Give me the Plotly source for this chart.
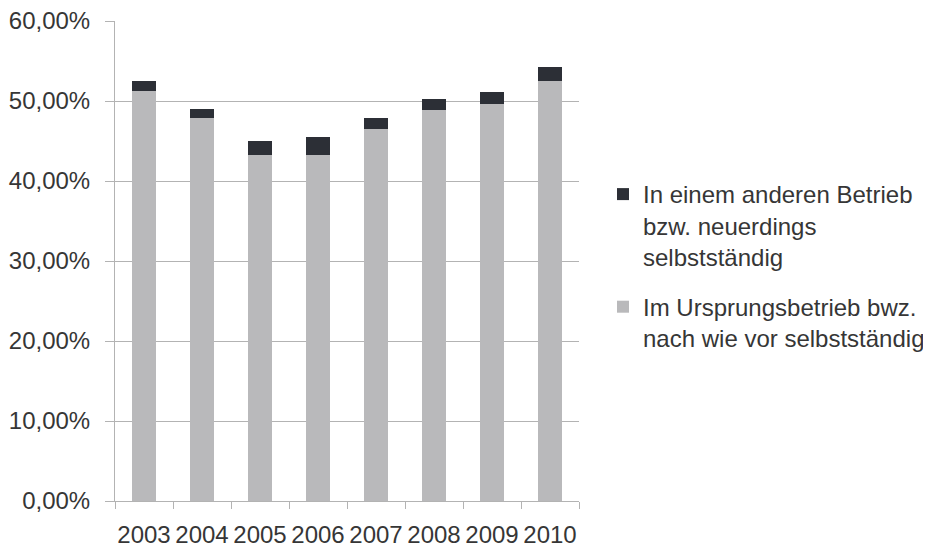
import plotly.graph_objects as go

years = ["2003", "2004", "2005", "2006", "2007", "2008", "2009", "2010"]
ursprung = [51.3, 47.9, 43.3, 43.2, 46.45, 48.9, 49.6, 52.5]
anderer = [1.25, 1.05, 1.7, 2.3, 1.4, 1.4, 1.5, 1.75]
y_tickvals = [0, 10, 20, 30, 40, 50, 60]
y_ticktext = ["0,00%", "10,00%", "20,00%", "30,00%", "40,00%", "50,00%", "60,00%"]

name_ursprung = "Im Ursprungsbetrieb bwz.<br>nach wie vor selbstständig"
name_anderer = "In einem anderen Betrieb<br>bzw. neuerdings<br>selbstständig"

font_family = "Liberation Sans, Arial, sans-serif"
text_color = "#363636"
grid_color = "#b3b3b3"

# the page body has an 8px default margin, so the layout is offset by it
off = 8

fig = go.Figure()
fig.add_trace(go.Bar(x=years, y=ursprung, name=name_ursprung,
                     marker=dict(color="#b9b9bb", line=dict(width=0)),
                     legendgroup="a", legendrank=2))
fig.add_trace(go.Bar(x=years, y=anderer, name=name_anderer,
                     marker=dict(color="#2c2f36", line=dict(width=0)),
                     legendgroup="b", legendrank=1))

fig.update_layout(
    width=931, height=547,
    barmode="stack",
    bargap=0.6,
    paper_bgcolor="white",
    plot_bgcolor="white",
    font=dict(family=font_family, size=24, color=text_color),
    margin=dict(l=115 - off, r=352 + off, t=21 - off, b=46 + off, pad=0),
    showlegend=True,
    legend=dict(
        xref="container", yref="container",
        x=(603 - off) / 931, y=1 - (172 - off) / 547,
        xanchor="left", yanchor="top",
        traceorder="grouped",
        tracegroupgap=16,
        valign="top",
        itemwidth=30,
        font=dict(size=24, family=font_family, color=text_color),
        bgcolor="rgba(0,0,0,0)",
    ),
    xaxis=dict(
        type="category",
        showline=True, linecolor=grid_color, linewidth=1,
        ticks="outside", tickson="boundaries", ticklen=7,
        tickcolor=grid_color, tickwidth=1,
        showgrid=False,
        tickangle=0,
        automargin=False,
        ticklabelstandoff=12,
        ticklabeloverflow="allow",
        tickfont=dict(size=24, color=text_color),
    ),
    yaxis=dict(
        range=[0, 60],
        tickvals=y_tickvals, ticktext=y_ticktext,
        showline=True, linecolor=grid_color, linewidth=1,
        ticks="outside", ticklen=9, tickcolor=grid_color, tickwidth=1,
        showgrid=True, gridcolor=grid_color, gridwidth=1,
        zeroline=False,
        automargin=False,
        ticklabelstandoff=10,
        ticklabeloverflow="allow",
        tickfont=dict(size=24, color=text_color),
    ),
)

fig.write_html("out.html")
